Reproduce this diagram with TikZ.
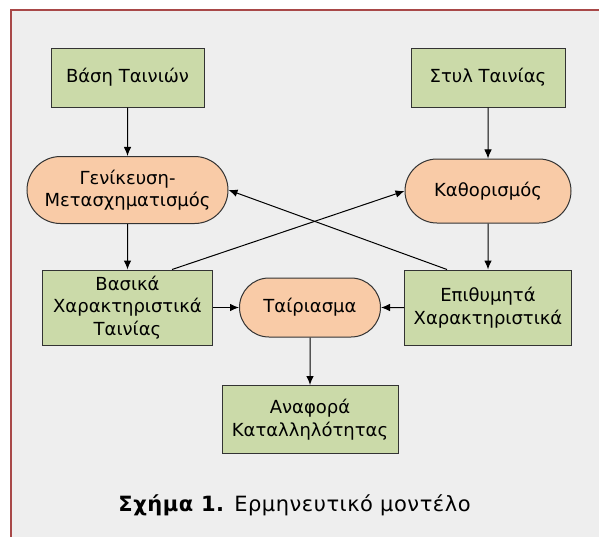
\documentclass[tikz,border=0pt]{standalone}
\usepackage{fontspec}
\setmainfont{DejaVu Sans}
\usetikzlibrary{shapes.misc,arrows.meta}
\definecolor{boxgreen}{HTML}{CBDAA9}
\definecolor{ovalorange}{HTML}{F9CBA7}
\definecolor{panelgray}{HTML}{EEEEEE}
\definecolor{framered}{HTML}{A84848}
\tikzset{
  databox/.style={draw=black!80,line width=1pt,fill=boxgreen,align=center,inner sep=2pt},
  procoval/.style={draw=black!80,line width=1pt,fill=ovalorange,rounded rectangle,align=center,inner sep=2pt},
}
\begin{document}
\begin{tikzpicture}[x=1pt,y=-1pt,font=\fontsize{18}{22.5}\selectfont,>={Latex[length=9pt,width=7.5pt]}]
\useasboundingbox (0,0) rectangle (599,536);
\fill[white] (0,0) rectangle (599,536);
\draw[fill=panelgray,draw=framered,line width=2pt] (11,10) rectangle (640,580);
\node[databox,minimum width=153,minimum height=59] (base)at(127.5,77.5){Βάση Ταινιών};
\node[databox,minimum width=154,minimum height=59] (style)at(488,77.5){Στυλ Ταινίας};
\node[procoval,minimum width=205,minimum height=67] (gen)at(127.5,190){Γενίκευση-\\Μετασχηματισμός};
\node[procoval,minimum width=170,minimum height=64] (kath)at(488,191){Καθορισμός};
\node[databox,minimum width=170,minimum height=75] (basic)at(127.5,307.5){Βασικά\\Χαρακτηριστικά\\Ταινίας};
\node[procoval,minimum width=145,minimum height=59] (match)at(310,307.5){Ταίριασμα};
\node[databox,minimum width=167,minimum height=75] (desired)at(488,307.5){Επιθυμητά\\Χαρακτηριστικά};
\node[databox,minimum width=176,minimum height=68] (report)at(310,419.5){Αναφορά\\Καταλληλότητας};
\node[font=\fontsize{21}{25}\selectfont\addfontfeatures{LetterSpace=2.5}] (caption)at(294.5,505){\textbf{Σχήμα 1.} Ερμηνευτικό μοντέλο};
\draw[->,line width=1pt] (base) to (gen);
\draw[->,line width=1pt] (style) to (kath);
\draw[->,line width=1pt] (gen) to (basic);
\draw[->,line width=1pt] (kath) to (desired);
\draw[->,line width=1pt] (basic) to (match);
\draw[->,line width=1pt] (desired) to (match);
\draw[->,line width=1pt] (match) to (report);
\draw[->,line width=1pt] ([xshift=44.5]basic.north) to (kath.west);
\draw[->,line width=1pt] ([xshift=-41]desired.north) to (gen.east);
\end{tikzpicture}
\end{document}
